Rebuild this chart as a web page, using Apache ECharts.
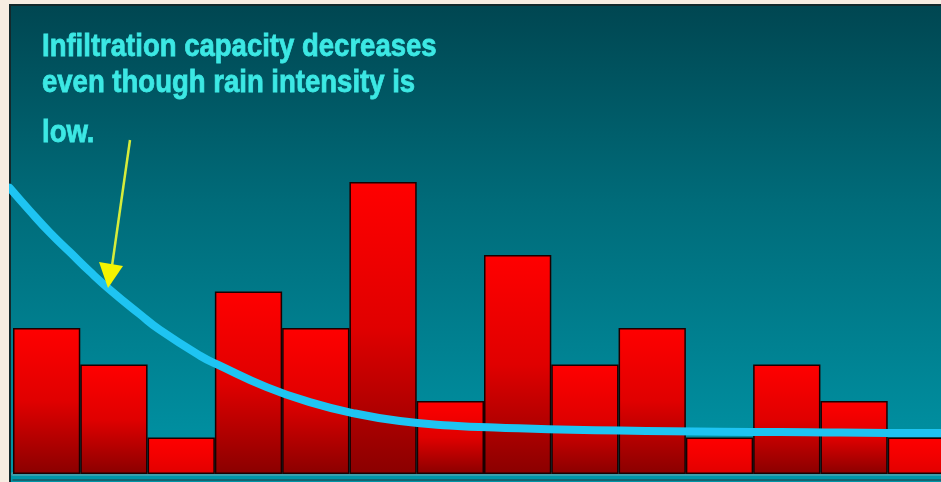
<!DOCTYPE html>
<html>
<head>
<meta charset="utf-8">
<script src="https://cdn.jsdelivr.net/npm/echarts@6/dist/echarts.min.js"></script>
<style>
  html, body { margin: 0; padding: 0; background: #f6ede2; }
  #chart { width: 941px; height: 482px; }
</style>
</head>
<body>
<div id="chart"></div>
<script>
// Rainfall intensity per time step (bars)
const periods = ['1', '2', '3', '4', '5', '6', '7', '8', '9', '10', '11', '12', '13', '14'];
const rainIntensity = [4, 3, 1, 5, 4, 8, 2, 6, 3, 4, 1, 3, 2, 1];

// Infiltration capacity curve: time (in periods) and capacity
const capacityTime = [-0.05, 0.25, 0.55, 0.85, 1.14, 1.44, 1.89, 2.18, 2.78, 3.05, 3.77, 4.41, 5.05, 5.75, 6.49, 7.24, 9.02, 11.4, 13.79, 14.31];
const capacityValue = [7.84, 7.21, 6.61, 6.07, 5.55, 5.05, 4.37, 3.95, 3.24, 2.99, 2.38, 1.97, 1.67, 1.45, 1.33, 1.27, 1.19, 1.15, 1.12, 1.12];

const noteLines = [
  'Infiltration capacity decreases',
  'even though rain intensity is',
  'low.'
];
const noteTops = [31, 67, 117];

const chart = echarts.init(document.getElementById('chart'));

// taller bars fade to a deeper red at the bottom
function barGradient(v) {
  const t = Math.max(0, Math.min(1, (v - 1)));
  const lerp = (a, b) => Math.round(a + (b - a) * t);
  const bottom = 'rgb(' + lerp(225, 138) + ',0,0)';
  return new echarts.graphic.LinearGradient(0, 0, 0, 1, [
    { offset: 0, color: '#ff0000' },
    { offset: 0.5, color: v > 1 ? '#e00000' : '#f20000' },
    { offset: 1, color: bottom }
  ]);
}

const noteText = noteLines.map((line, i) => ({
  type: 'text', z: 20, silent: true,
  x: 42, y: noteTops[i], scaleX: 0.86,
  style: {
    x: 0, y: 0, text: line,
    fill: '#3ce8e4',
    stroke: '#3ce8e4', lineWidth: 0.8,
    font: 'bold 32px "Liberation Sans", Arial, sans-serif',
    verticalAlign: 'top'
  }
}));

chart.setOption({
  backgroundColor: '#f6ede2',
  animation: false,
  graphic: [
    {
      type: 'rect', z: -10, silent: true,
      shape: { x: 10, y: 5, width: 940, height: 490 },
      style: {
        fill: new echarts.graphic.LinearGradient(0, 0, 0, 1, [
          { offset: 0, color: '#004651' },
          { offset: 0.4, color: '#006b79' },
          { offset: 1, color: '#0098aa' }
        ]),
        stroke: '#13282b', lineWidth: 2
      }
    },
    ...noteText,
    {
      type: 'line', z: 20, silent: true,
      shape: { x1: 130, y1: 140, x2: 112, y2: 266 },
      style: { stroke: '#d6ec3a', lineWidth: 2.5 }
    },
    {
      type: 'polygon', z: 20, silent: true,
      shape: { points: [[99, 262], [123, 266], [108, 288]] },
      style: { fill: '#f4f400' }
    }
  ],
  grid: { left: 13, width: 942, top: 182, bottom: 8, outerBoundsMode: 'none', containLabel: false },
  xAxis: [
    {
      type: 'category', data: periods, boundaryGap: true,
      offset: 3,
      axisLine: { show: true, lineStyle: { color: '#3b9dab', width: 4 } },
      axisTick: { show: false }, axisLabel: { show: false }, splitLine: { show: false }
    },
    {
      type: 'value', min: 0, max: 14, position: 'bottom',
      offset: 6,
      axisLine: { show: true, lineStyle: { color: '#1d5660', width: 1.5 } },
      axisTick: { show: false }, axisLabel: { show: false }, splitLine: { show: false }
    }
  ],
  yAxis: {
    type: 'value', min: 0, max: 8,
    axisLine: { show: false }, axisTick: { show: false },
    axisLabel: { show: false }, splitLine: { show: false }
  },
  series: [
    {
      type: 'bar',
      xAxisIndex: 0,
      data: rainIntensity,
      barWidth: '100%',
      barCategoryGap: 0,
      itemStyle: {
        color: p => barGradient(p.value),
        borderColor: '#1a0000',
        borderWidth: 1.5
      }
    },
    {
      type: 'line',
      xAxisIndex: 1,
      data: capacityTime.map((t, i) => [t, capacityValue[i]]),
      smooth: true,
      symbol: 'none',
      clip: false,
      z: 5,
      lineStyle: { color: '#1ec4f2', width: 8, cap: 'round', join: 'round' }
    }
  ]
});
</script>
</body>
</html>
